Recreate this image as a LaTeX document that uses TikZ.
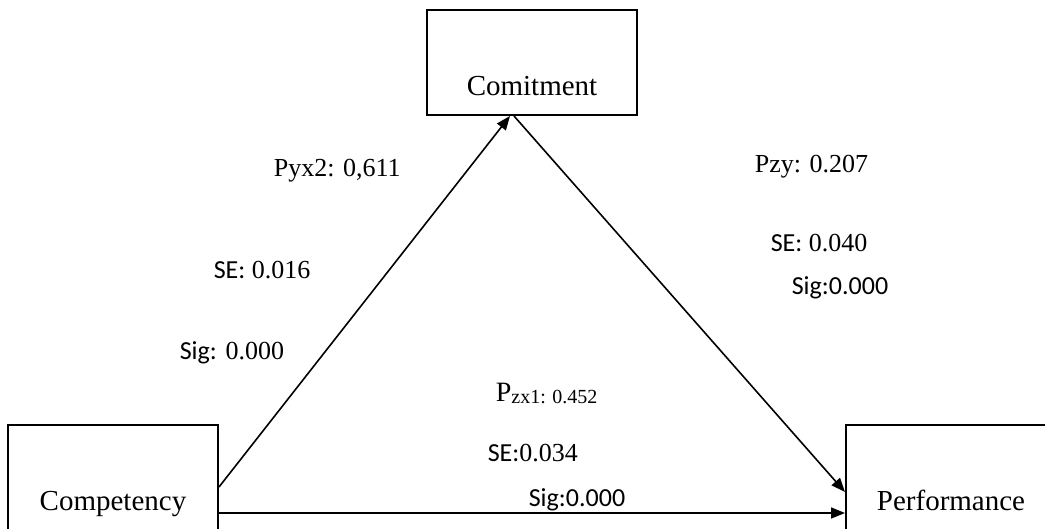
\documentclass[tikz,border=0pt]{standalone}
\usepackage{fontspec}
\setmainfont{Liberation Serif}
\newfontfamily\carl{Carlito}
\usetikzlibrary{arrows.meta}

\begin{document}
\begin{tikzpicture}[x=0.5pt, y=0.5pt, line width=0.8pt,
  box/.style={draw, line width=1pt, inner sep=0pt, minimum width=105pt,
    text height=43pt, text depth=9.5pt, font=\fontsize{14.5}{17}\selectfont},
  lbl/.style={anchor=base west, inner sep=0pt, font=\fontsize{13}{15}\selectfont},
  path/.style={-{Triangle[length=7pt,width=5.5pt]}}]
  \useasboundingbox (0,0) rectangle (1045,529);
  % Variables
  \node[box, anchor=north west] (comit) at (426,520) {Comitment};
  \node[box, anchor=north west, text depth=11pt] (comp) at (7,105) {Competency};
  \node[box, anchor=north west, text depth=11pt] (perf) at (845,105) {Performance};
  % Paths
  \draw[path] ([yshift=-31.5pt]comp.north east) -- ([xshift=-11pt]comit.south);
  \draw[path] ([xshift=-9pt]comit.south) -- ([yshift=-34pt]perf.north west);
  \draw[path] ([yshift=-44.5pt]comp.north east) -- ([yshift=-44.5pt]perf.north west);
  % Coefficients -- competency to comitment
  \node[lbl] (pyx) at (273,352) {Pyx2: 0,611};
  \node[lbl] (sex) at (213,250) {{\carl SE:} 0.016};
  \node[lbl] (sigx) at (179,169) {{\carl Sig:} 0.000};
  % Coefficients -- comitment to performance
  \node[lbl] (pzy) at (754,356) {Pzy: 0.207};
  \node[lbl] (sey) at (770,277) {{\carl SE:} 0.040};
  \node[lbl] (sigy) at (791,234) {\carl Sig:0.000};
  % Coefficients -- competency to performance
  \node[lbl, font=\fontsize{14}{16}\selectfont] (pzx) at (495,127)
    {P\raisebox{-1pt}{\fontsize{10}{11}\selectfont zx1: 0.452}};
  \node[lbl] (sez) at (487,67) {{\carl SE:}0.034};
  \node[lbl] (sigz) at (528,22) {\carl Sig:0.000};
\end{tikzpicture}
\end{document}
